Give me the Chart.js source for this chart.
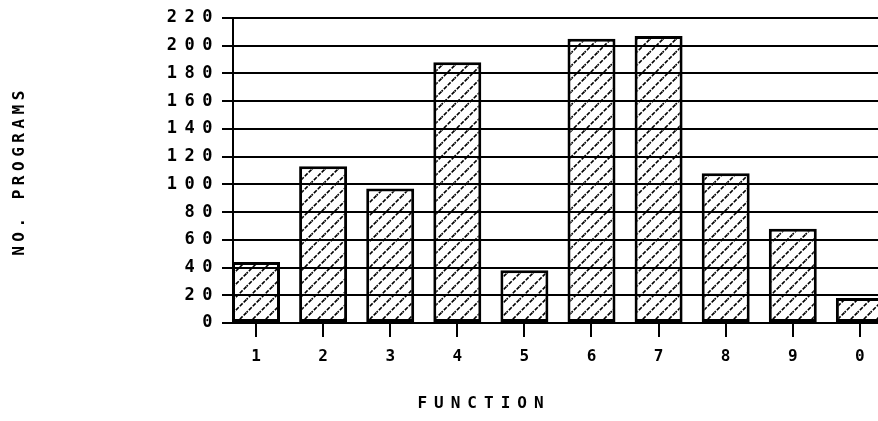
<!DOCTYPE html>
<html>
<head>
<meta charset="utf-8">
<script src="https://cdn.jsdelivr.net/npm/chart.js@4/dist/chart.umd.min.js"></script>
<style>
  html, body { margin: 0; padding: 0; background: #fff; }
  canvas { display: block; }
</style>
</head>
<body>
<canvas id="functionChart" width="878" height="421"></canvas>
<script>
// data
const categories = ['1', '2', '3', '4', '5', '6', '7', '8', '9', '0'];
const programs = [44, 113, 97, 188, 38, 205, 207, 108, 68, 18];
const yTicks = [0, 20, 40, 60, 80, 100, 120, 140, 160, 180, 200, 220];
const xTitle = 'FUNCTION';
const yTitle = 'NO. PROGRAMS';

const FONT = '"DejaVu Sans Mono", "Liberation Mono", monospace';

// diagonal hatch fill for the bars
function makeHatch() {
  const size = 13;
  const c = document.createElement('canvas');
  c.width = size;
  c.height = size;
  const g = c.getContext('2d');
  g.fillStyle = '#fff';
  g.fillRect(0, 0, size, size);
  g.strokeStyle = '#000';
  g.lineWidth = 1.6;
  g.setLineDash([4, 1.5]);
  g.beginPath();
  g.moveTo(-2, size + 2); g.lineTo(size + 2, -2);
  g.moveTo(-2, 2); g.lineTo(2, -2);
  g.moveTo(size - 2, size + 2); g.lineTo(size + 2, size - 2);
  g.stroke();
  return g.createPattern(c, 'repeat');
}

// wide dot-matrix look for the y tick labels + the two axis titles
const lettering = {
  id: 'lettering',
  beforeDraw(chart) { chart.ctx.letterSpacing = '0px'; },
  afterDatasetsDraw(chart) { chart.ctx.letterSpacing = '7.5px'; },
  afterDraw(chart) {
    const ctx = chart.ctx;
    ctx.save();
    ctx.fillStyle = '#000';
    ctx.font = 'bold 16px ' + FONT;
    ctx.textAlign = 'center';
    ctx.textBaseline = 'middle';
    ctx.letterSpacing = '7px';
    ctx.fillText(xTitle, 484, 404);
    ctx.translate(20, 173);
    ctx.rotate(-Math.PI / 2);
    ctx.letterSpacing = '4.5px';
    ctx.fillText(yTitle, 2, 0);
    ctx.restore();
    ctx.letterSpacing = '0px';
  }
};

const ctx = document.getElementById('functionChart');

new Chart(ctx, {
  type: 'bar',
  data: {
    datasets: [{
      label: 'No. programs',
      data: programs.map((v, i) => ({ x: i + 1, y: v })),
      backgroundColor: makeHatch(),
      borderColor: '#000',
      borderWidth: 3,
      borderSkipped: false,
      barPercentage: 0.715,
      categoryPercentage: 1
    }]
  },
  options: {
    responsive: false,
    animation: false,
    layout: { padding: { top: 18, left: 0, right: 0, bottom: 0 } },
    plugins: {
      legend: { display: false },
      tooltip: { enabled: false }
    },
    scales: {
      x: {
        type: 'linear',
        min: 0.657,
        max: 10.27,
        offset: false,
        afterBuildTicks: scale => {
          scale.ticks = categories.map((c, i) => ({ value: i + 1 }));
        },
        afterFit: scale => { scale.height = 98; },
        grid: {
          offset: false,
          drawOnChartArea: false,
          drawTicks: true,
          tickLength: 14,
          color: '#000',
          lineWidth: 2
        },
        border: { display: true, color: '#000', width: 2 },
        ticks: {
          autoSkip: false,
          maxRotation: 0,
          padding: 0,
          color: '#000',
          font: { family: FONT, size: 16, weight: 'bold', lineHeight: 2.5 },
          callback: v => categories[Math.round(v) - 1]
        }
      },
      y: {
        min: yTicks[0],
        max: yTicks[yTicks.length - 1],
        afterFit: scale => { scale.width = 233; },
        grid: {
          z: 1,
          color: '#000',
          lineWidth: 2,
          tickLength: 11
        },
        border: { display: true, color: '#000', width: 2, z: 1 },
        ticks: {
          z: 1,
          stepSize: yTicks[1] - yTicks[0],
          padding: 2,
          color: '#000',
          font: { family: FONT, size: 17, weight: 'bold' }
        }
      }
    }
  },
  plugins: [lettering]
});
</script>
</body>
</html>
